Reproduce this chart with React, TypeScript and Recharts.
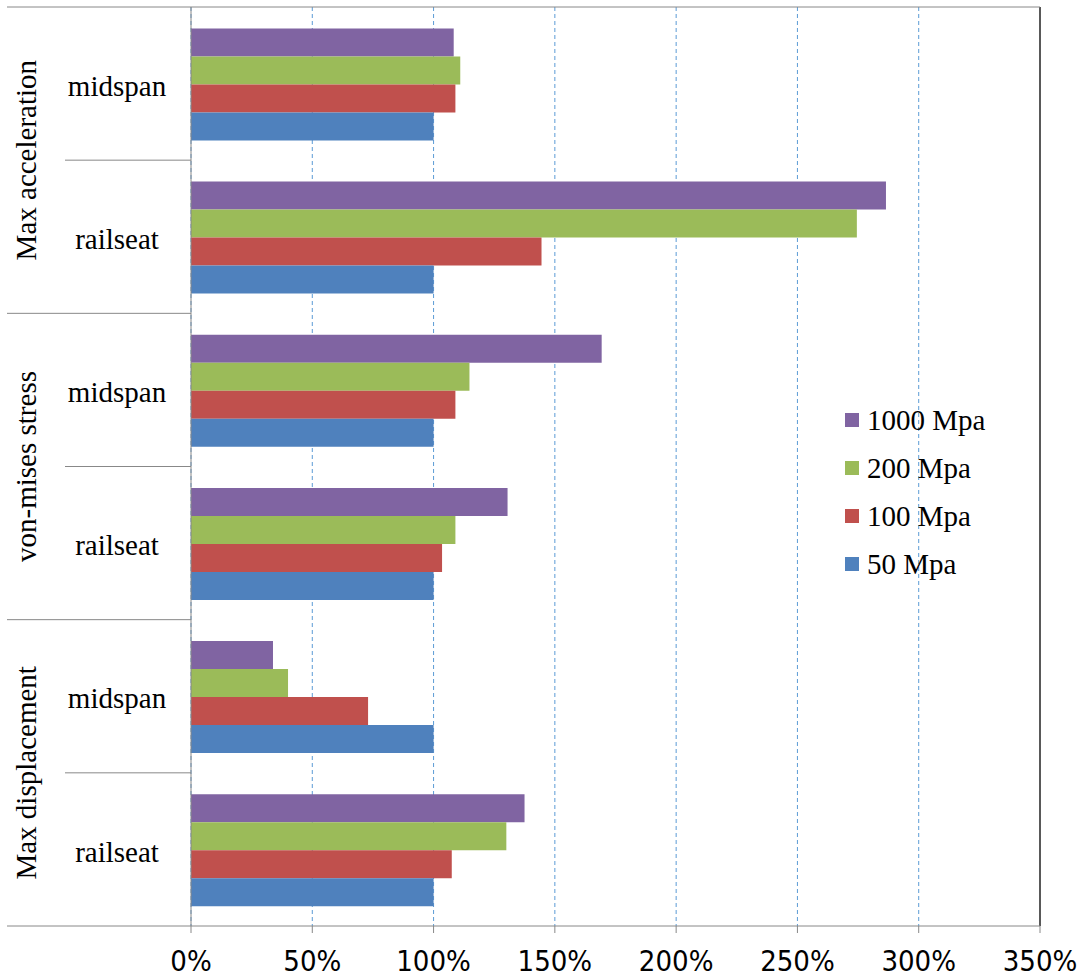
import { BarChart, Bar, XAxis, YAxis, CartesianGrid, ReferenceLine } from 'recharts';

const CATEGORIES = ['midspan', 'railseat', 'midspan', 'railseat', 'midspan', 'railseat'];
const GROUPS = ['Max acceleration', 'von-mises stress', 'Max displacement'];

// percent of the 50 Mpa case
const MPA_1000 = [108.3, 286.5, 169.3, 130.5, 33.8, 137.5];
const MPA_200 = [111, 274.5, 114.8, 109, 40, 130];
const MPA_100 = [109, 144.5, 109, 103.5, 73, 107.5];
const MPA_50 = [100, 100, 100, 100, 100, 100];

const X_TICKS = [0, 50, 100, 150, 200, 250, 300, 350];

const SERIES = [
  { key: 'm1000', name: '1000 Mpa', color: '#8064A2', values: MPA_1000 },
  { key: 'm200', name: '200 Mpa', color: '#9BBB59', values: MPA_200 },
  { key: 'm100', name: '100 Mpa', color: '#C0504D', values: MPA_100 },
  { key: 'm50', name: '50 Mpa', color: '#4F81BD', values: MPA_50 },
];

const data = CATEGORIES.map((name, i) => {
  const row: Record<string, string | number> = { name };
  SERIES.forEach(s => {
    row[s.key] = s.values[i];
  });
  return row;
});

const WIDTH = 1080;
const HEIGHT = 980;
const PLOT_TOP = 7;
const PLOT_RIGHT = 40;
const AXIS_H = 54;
const Y_AXIS_W = 191;
const BAND = (HEIGHT - PLOT_TOP - AXIS_H) / CATEGORIES.length;

const SERIF = '"Liberation Serif", "Times New Roman", serif';
const NARROW = '"Liberation Sans Narrow", "DejaVu Sans Condensed", "Liberation Sans", sans-serif';
const LINE = '#888888';

function CategoryTick(props: any) {
  const { y, payload } = props;
  const index = payload.index as number;
  const bottom = y + BAND / 2;
  const groupIdx = Math.floor(index / 2);
  return (
    <g>
      <text
        x={117}
        y={y}
        dy="0.42em"
        textAnchor="middle"
        fontFamily={SERIF}
        fontSize={29}
        fill="#000"
      >
        {payload.value}
      </text>
      {/* frame top edge */}
      {index === 0 && (
        <line x1={7} x2={WIDTH - PLOT_RIGHT} y1={y - BAND / 2} y2={y - BAND / 2} stroke={LINE} />
      )}
      {index % 2 === 0 ? (
        <>
          <line x1={65} x2={Y_AXIS_W} y1={bottom} y2={bottom} stroke={LINE} />
          <text
            x={26}
            y={bottom}
            dy="0.35em"
            textAnchor="middle"
            fontFamily={SERIF}
            fontSize={29}
            fill="#000"
            transform={`rotate(-90, 26, ${bottom})`}
          >
            {GROUPS[groupIdx]}
          </text>
        </>
      ) : (
        <line x1={7} x2={Y_AXIS_W} y1={bottom} y2={bottom} stroke={LINE} />
      )}
    </g>
  );
}

function LegendBox() {
  return (
    <div
      style={{
        position: 'absolute',
        left: 845,
        top: 396,
        fontFamily: SERIF,
        fontSize: 29,
        color: '#000',
      }}
    >
      {SERIES.map(s => (
        <div key={s.key} style={{ height: 48, display: 'flex', alignItems: 'center' }}>
          <span
            style={{ width: 14, height: 14, background: s.color, display: 'inline-block', marginRight: 8 }}
          />
          <span>{s.name}</span>
        </div>
      ))}
    </div>
  );
}

export default function App() {
  return (
    <div style={{ position: 'absolute', left: 0, top: 0, width: WIDTH, height: HEIGHT, background: '#fff' }}>
      <BarChart
        width={WIDTH}
        height={HEIGHT}
        data={data}
        layout="vertical"
        margin={{ top: PLOT_TOP, right: PLOT_RIGHT, bottom: 0, left: 0 }}
        barCategoryGap="14%"
        barGap={0}
      >
        <CartesianGrid horizontal={false} stroke="#5B9BD5" strokeDasharray="4 3" />
        <XAxis
          type="number"
          domain={[0, 350]}
          ticks={X_TICKS}
          tickFormatter={(v: number) => `${v}%`}
          height={AXIS_H}
          axisLine={{ stroke: LINE }}
          tickLine={{ stroke: LINE }}
          tickSize={7}
          tickMargin={17}
          tick={{ fontFamily: NARROW, fontSize: 29, fill: '#000' }}
        />
        <YAxis
          type="category"
          dataKey="name"
          width={Y_AXIS_W}
          interval={0}
          tickLine={false}
          axisLine={{ stroke: LINE }}
          tick={<CategoryTick />}
        />
        <ReferenceLine x={350} stroke="#595959" strokeWidth={2} />
        {SERIES.map(s => (
          <Bar key={s.key} dataKey={s.key} name={s.name} fill={s.color} isAnimationActive={false} />
        ))}
      </BarChart>
      <LegendBox />
    </div>
  );
}
